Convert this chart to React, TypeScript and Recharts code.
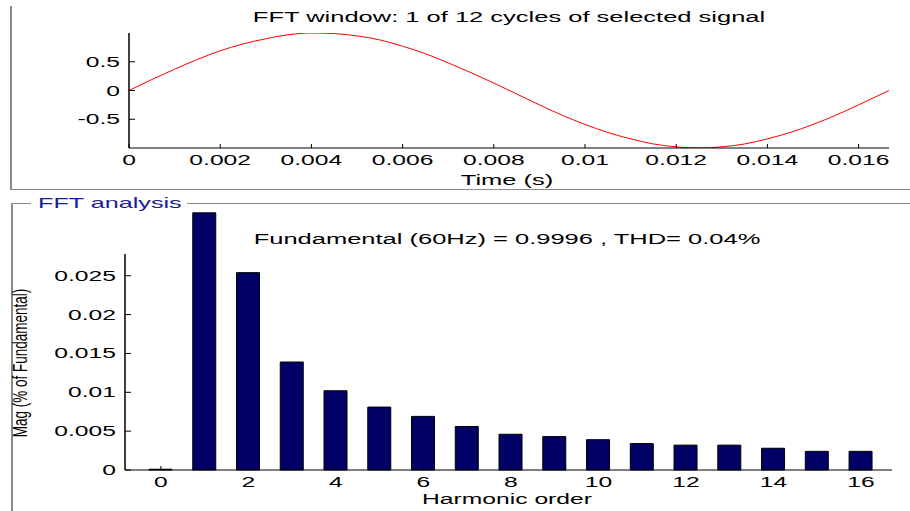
import { LineChart, Line, ComposedChart, Bar, XAxis, YAxis } from 'recharts'

const FONT = '"Liberation Sans", Arial, sans-serif'
const SX = 1.7 // text in the reference is drawn stretched wide

// top panel: one cycle of the selected signal
const timeSec = [
  0, 0.0005, 0.001, 0.0015, 0.002, 0.0025, 0.003, 0.0035, 0.004, 0.0045, 0.005, 0.0055,
  0.006, 0.0065, 0.007, 0.0075, 0.008, 0.0085, 0.009, 0.0095, 0.01, 0.0105, 0.011, 0.0115,
  0.012, 0.0125, 0.013, 0.0135, 0.014, 0.0145, 0.015, 0.0155, 0.016, 0.016667
]
const signal = [
  0, 0.19, 0.37, 0.54, 0.69, 0.81, 0.9, 0.97, 1, 0.99, 0.95, 0.88,
  0.77, 0.64, 0.48, 0.31, 0.13, -0.06, -0.25, -0.43, -0.59, -0.73, -0.84, -0.93,
  -0.98, -1, -0.98, -0.93, -0.84, -0.73, -0.59, -0.43, -0.25, 0
]
const timeTicks = [0, 0.002, 0.004, 0.006, 0.008, 0.01, 0.012, 0.014, 0.016]
const signalTicks = [-0.5, 0, 0.5]

// bottom panel: harmonic spectrum
const harmonicOrder = [0, 1, 2, 3, 4, 5, 6, 7, 8, 9, 10, 11, 12, 13, 14, 15, 16]
const magnitude = [
  0.0001, 0.0331, 0.0254, 0.0139, 0.0102, 0.0081, 0.0069, 0.0056, 0.0046,
  0.0043, 0.0039, 0.0034, 0.0032, 0.0032, 0.0028, 0.0024, 0.0024
]
const orderTicks = [0, 2, 4, 6, 8, 10, 12, 14, 16]
const magTicks = [0, 0.005, 0.01, 0.015, 0.02, 0.025]

const waveData = timeSec.map((t, i) => ({ t, v: signal[i] }))
const harmonicData = harmonicOrder.map((order, i) => ({ order, mag: magnitude[i] }))

function StretchText({ x, y, anchor = 'middle', size = 14.5, fill = '#000', sx = SX, children }: any) {
  return (
    <text
      transform={`translate(${x},${y}) scale(${sx},1)`}
      textAnchor={anchor}
      fontSize={size}
      fontFamily={FONT}
      fill={fill}
    >
      {children}
    </text>
  )
}

// matlab style: ticks point into the box
const bottomTick = (p: any) => (
  <g>
    <line x1={p.x} x2={p.x} y1={p.y} y2={p.y - 4} stroke="#000" />
    <StretchText x={p.x} y={p.y + 17}>{String(p.payload.value)}</StretchText>
  </g>
)

const leftTick = (p: any) => (
  <g>
    <line x1={p.x} x2={p.x + 6} y1={p.y} y2={p.y} stroke="#000" />
    <StretchText x={p.x - 9} y={p.y + 5} anchor="end">{String(p.payload.value)}</StretchText>
  </g>
)

const frame = '#8a8a8a'

export default function App() {
  return (
    <div style={{ position: 'absolute', left: 0, top: 0, width: 910, height: 511, background: '#fff' }}>
      <style>{'.recharts-bar-rectangles{clip-path:none}'}</style>

      <div style={{ position: 'absolute', left: 0, top: 0 }}>
        <LineChart width={910} height={190} data={waveData} margin={{ top: 33, right: 21, bottom: 0, left: 0 }}>
          <XAxis
            dataKey="t"
            type="number"
            domain={[0, 0.016667]}
            ticks={timeTicks}
            interval={0}
            allowDataOverflow
            height={42}
            tickSize={0}
            tickMargin={0}
            tickLine={false}
            tick={bottomTick}
            axisLine={{ stroke: '#000' }}
          />
          <XAxis
            xAxisId="top"
            orientation="top"
            type="number"
            domain={[0, 0.016667]}
            ticks={timeTicks}
            interval={0}
            allowDataOverflow
            mirror
            height={0}
            tick={false}
            tickSize={4}
            tickLine={{ stroke: '#000' }}
            axisLine={{ stroke: '#000' }}
          />
          <YAxis
            type="number"
            domain={[-1, 1]}
            ticks={signalTicks}
            interval={0}
            allowDataOverflow
            width={129}
            tickSize={0}
            tickMargin={0}
            tickLine={false}
            tick={leftTick}
            axisLine={{ stroke: '#000', strokeWidth: 1.5 }}
          />
          <YAxis
            yAxisId="right"
            orientation="right"
            type="number"
            domain={[-1, 1]}
            ticks={signalTicks}
            interval={0}
            allowDataOverflow
            mirror
            width={0}
            tick={false}
            tickSize={6}
            tickLine={{ stroke: '#000' }}
            axisLine={{ stroke: '#000', strokeWidth: 1.5 }}
          />
          <Line type="monotone" dataKey="v" stroke="#ff0000" strokeWidth={1} dot={false} isAnimationActive={false} />
        </LineChart>
      </div>

      <div style={{ position: 'absolute', left: 0, top: 190 }}>
        <ComposedChart width={910} height={321} data={harmonicData} margin={{ top: 64, right: 18, bottom: 0, left: 0 }}>
          <XAxis
            dataKey="order"
            type="number"
            domain={[-0.82, 16.71]}
            ticks={orderTicks}
            interval={0}
            height={41}
            tickSize={0}
            tickMargin={0}
            tickLine={false}
            tick={bottomTick}
            axisLine={{ stroke: '#000' }}
          />
          <XAxis
            xAxisId="top"
            orientation="top"
            type="number"
            domain={[-0.82, 16.71]}
            ticks={orderTicks}
            interval={0}
            allowDataOverflow
            mirror
            height={0}
            tick={false}
            tickSize={4}
            tickLine={{ stroke: '#000' }}
            axisLine={{ stroke: '#000' }}
          />
          <YAxis
            type="number"
            domain={[0, 0.0278]}
            ticks={magTicks}
            interval={0}
            allowDataOverflow
            width={125}
            tickSize={0}
            tickMargin={0}
            tickLine={false}
            tick={leftTick}
            axisLine={{ stroke: '#000', strokeWidth: 1.5 }}
          />
          <YAxis
            yAxisId="right"
            orientation="right"
            type="number"
            domain={[0, 0.0278]}
            ticks={magTicks}
            interval={0}
            allowDataOverflow
            mirror
            width={0}
            tick={false}
            tickSize={6}
            tickLine={{ stroke: '#000' }}
            axisLine={{ stroke: '#000', strokeWidth: 1.5 }}
          />
          <Bar dataKey="mag" fill="#000066" stroke="#000" strokeWidth={1} barSize={23} isAnimationActive={false} />
        </ComposedChart>
      </div>

      <svg width={910} height={511} style={{ position: 'absolute', left: 0, top: 0, pointerEvents: 'none' }}>
        <line x1={11} y1={6} x2={11} y2={190} stroke={frame} strokeWidth={2} />
        <line x1={10} y1={189.5} x2={910} y2={189.5} stroke={frame} />
        <line x1={12} y1={203} x2={12} y2={511} stroke={frame} strokeWidth={2} />
        <line x1={11} y1={203.5} x2={31} y2={203.5} stroke={frame} />
        <line x1={187} y1={203.5} x2={910} y2={203.5} stroke={frame} />

        <StretchText x={509} y={22} size={15}>FFT window: 1 of 12 cycles of selected signal</StretchText>
        <StretchText x={507} y={185} size={15}>Time (s)</StretchText>
        <StretchText x={38} y={208} anchor="start" size={14} sx={1.8} fill="#1c1c96">FFT analysis</StretchText>
        <StretchText x={507} y={244} size={15}>Fundamental (60Hz) = 0.9996 , THD= 0.04%</StretchText>
        <StretchText x={507} y={504} size={14.5}>Harmonic order</StretchText>
        <text
          transform="translate(27,363) rotate(-90) scale(1,1.5)"
          textAnchor="middle"
          fontSize={13.5}
          fontFamily={FONT}
          fill="#000"
        >
          Mag (% of Fundamental)
        </text>
      </svg>
    </div>
  )
}
